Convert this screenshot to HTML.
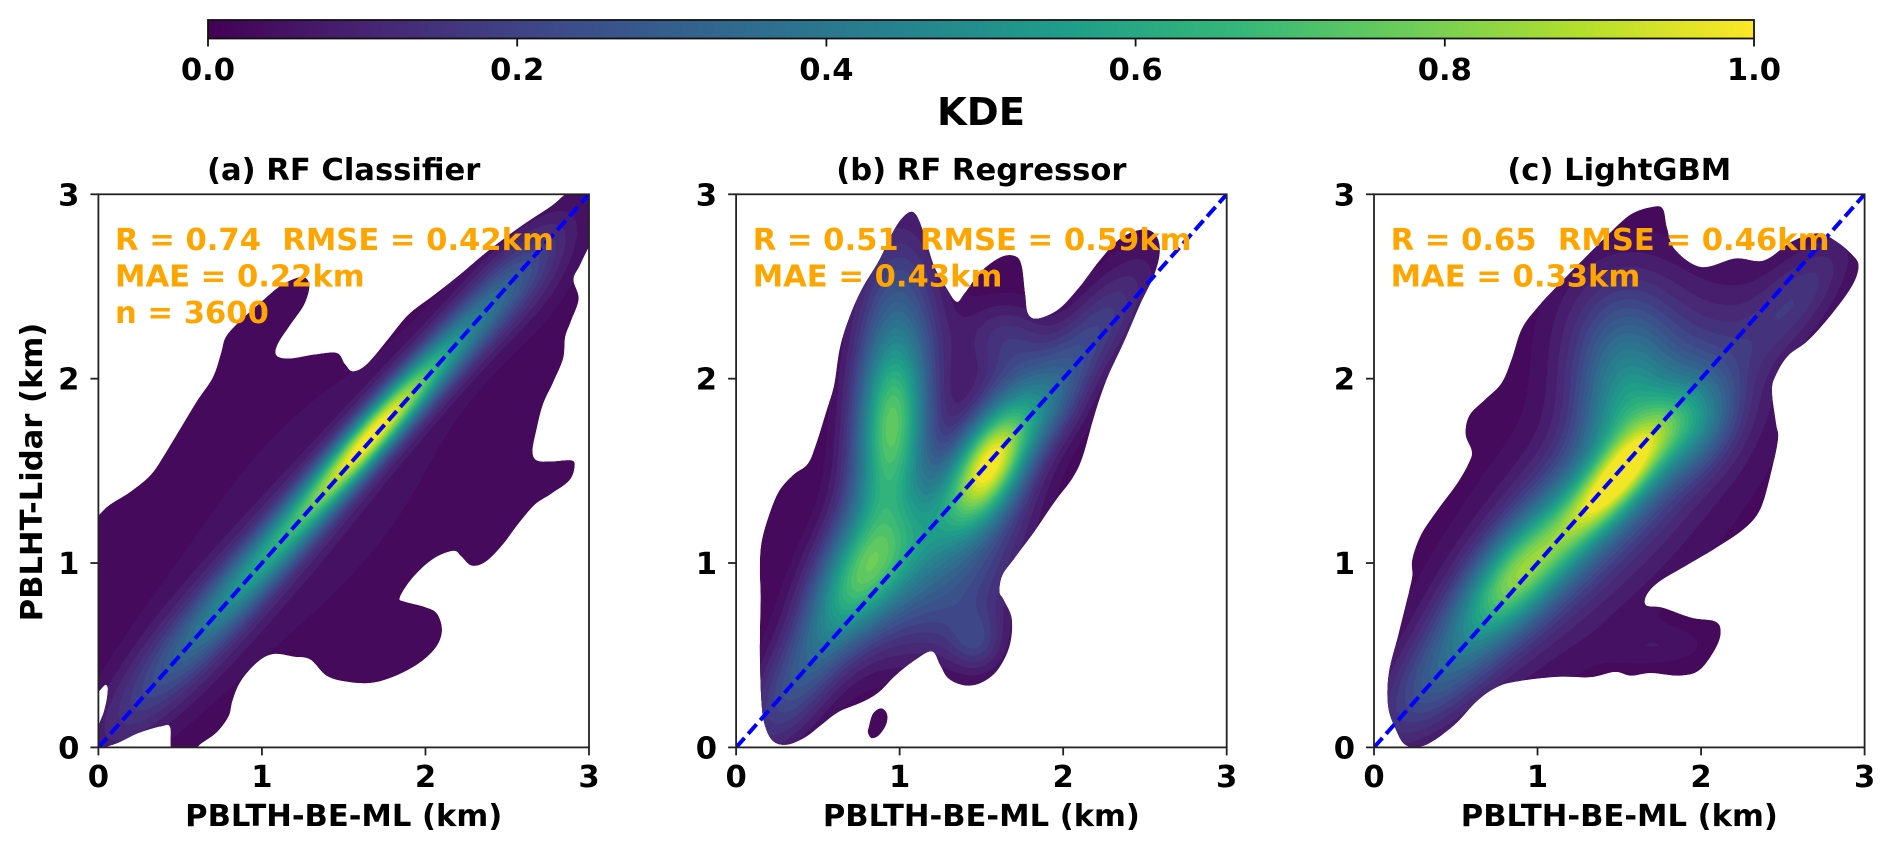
<!DOCTYPE html>
<html>
<head>
<meta charset="utf-8">
<title>KDE comparison of PBLH retrievals</title>
<style>
html,body{margin:0;padding:0;background:#fff;width:1892px;height:851px;overflow:hidden}
svg{display:block}
text{font-family:"DejaVu Sans","Liberation Sans",sans-serif;font-weight:bold;white-space:pre}
</style>
</head>
<body>
<svg id="fig" xmlns="http://www.w3.org/2000/svg" width="1892" height="851" viewBox="0 0 1892 851">
  <defs id="defs"></defs>
  <g id="colorbar"></g>
  <g id="panels"></g>
</svg>
<script>
// ---- chart data ----
const panelTitles = ["(a) RF Classifier", "(b) RF Regressor", "(c) LightGBM"];
const panelStats = [
  ["R = 0.74  RMSE = 0.42km", "MAE = 0.22km", "n = 3600"],
  ["R = 0.51  RMSE = 0.59km", "MAE = 0.43km"],
  ["R = 0.65  RMSE = 0.46km", "MAE = 0.33km"]
];
const xTicks = [0, 1, 2, 3];
const yTicks = [0, 1, 2, 3];
const cbarTicks = ["0.0", "0.2", "0.4", "0.6", "0.8", "1.0"];
const oneToOne = [0, 3];
const xTitle = "PBLTH-BE-ML (km)";
const yTitle = "PBLHT-Lidar (km)";
const cbarTitle = "KDE";

// lowest-contour outlines, [PBLTH km, PBLHT km]
const outlineA = [[-.05,1.2],[0,1.257],[.07,1.316],[.2,1.389],[.32,1.478],[.4,1.581],[.5,1.728],[.6,1.875],[.7,2.008],[.75,2.14],[.78,2.228],[.87,2.317],[1,2.42],[1.12,2.508],[1.245,2.552],[1.29,2.508],[1.26,2.405],[1.17,2.287],[1.095,2.184],[1.09,2.125],[1.17,2.11],[1.32,2.131],[1.457,2.14],[1.507,2.081],[1.557,2.04],[1.645,2.081],[1.77,2.214],[1.894,2.346],[2.044,2.449],[2.194,2.552],[2.393,2.7],[2.593,2.832],[2.768,2.935],[2.855,3],[2.95,3.06],[3.1,3.1],[3.1,2.85],[3,2.714],[2.942,2.611],[2.905,2.538],[2.937,2.434],[2.892,2.317],[2.855,2.228],[2.842,2.11],[2.78,1.978],[2.718,1.86],[2.68,1.728],[2.655,1.61],[2.68,1.557],[2.768,1.551],[2.892,1.557],[2.912,1.522],[2.88,1.448],[2.768,1.375],[2.668,1.316],[2.568,1.213],[2.468,1.095],[2.368,1.007],[2.281,.986],[2.219,1.036],[2.169,1.066],[2.044,1.021],[1.919,.918],[1.844,.815],[1.869,.792],[1.994,.762],[2.069,.727],[2.101,.639],[2.069,.55],[1.969,.462],[1.819,.389],[1.67,.35],[1.52,.356],[1.395,.389],[1.295,.477],[1.195,.492],[1.07,.506],[.971,.462],[.871,.359],[.821,.256],[.796,.168],[.721,.079],[.621,.015],[.571,-.03],[.452,-.03],[.439,.109],[.384,.115],[.247,.079],[.122,.026],[.047,.003],[-.02,-.02],[0,.109],[.035,.197],[.055,.286],[.047,.339],[-.05,.36]];
const outlineB = [[.145,.963],[.155,1.11],[.2,1.257],[.262,1.389],[.349,1.478],[.437,1.537],[.487,1.64],[.549,1.816],[.599,1.963],[.636,2.17],[.699,2.346],[.774,2.493],[.874,2.64],[.973,2.817],[1.048,2.897],[1.098,2.891],[1.148,2.788],[1.21,2.611],[1.285,2.493],[1.348,2.417],[1.398,2.464],[1.498,2.582],[1.622,2.661],[1.71,2.664],[1.747,2.611],[1.767,2.464],[1.785,2.352],[1.847,2.326],[1.972,2.376],[2.096,2.493],[2.221,2.64],[2.346,2.758],[2.471,2.808],[2.558,2.788],[2.591,2.699],[2.558,2.567],[2.471,2.405],[2.371,2.199],[2.271,2.008],[2.196,1.816],[2.121,1.581],[2.059,1.463],[1.947,1.331],[1.822,1.169],[1.697,1.021],[1.627,.933],[1.61,.845],[1.635,.801],[1.685,.698],[1.672,.55],[1.597,.418],[1.497,.35],[1.398,.336],[1.298,.374],[1.248,.447],[1.198,.521],[1.098,.477],[.973,.389],[.874,.3],[.774,.247],[.624,.191],[.524,.124],[.424,.056],[.312,.015],[.225,.035],[.175,.124],[.155,.256],[.145,.55],[.15,.815]];
const islandB = [[.811,.109],[.836,.182],[.886,.212],[.923,.182],[.918,.124],[.873,.065],[.829,.05],[.806,.08]];
const outlineC = [[.234,1.021],[.288,1.154],[.387,1.286],[.51,1.434],[.584,1.551],[.597,1.61],[.56,1.699],[.584,1.802],[.683,1.89],[.781,1.978],[.843,2.11],[.905,2.273],[1.003,2.39],[1.127,2.508],[1.274,2.641],[1.422,2.773],[1.57,2.891],[1.706,2.932],[1.767,2.92],[1.792,2.817],[1.841,2.699],[2.002,2.605],[2.211,2.652],[2.384,2.641],[2.556,2.744],[2.717,2.788],[2.827,2.744],[2.926,2.67],[2.963,2.611],[2.926,2.508],[2.803,2.355],[2.655,2.208],[2.532,2.125],[2.458,2.022],[2.433,1.934],[2.458,1.757],[2.47,1.669],[2.421,1.463],[2.359,1.286],[2.26,1.183],[2.088,1.08],[1.891,.977],[1.743,.898],[1.669,.83],[1.664,.771],[1.767,.757],[1.94,.704],[2.088,.683],[2.12,.624],[2.088,.536],[1.989,.418],[1.866,.389],[1.693,.403],[1.57,.389],[1.472,.409],[1.324,.38],[1.127,.383],[.88,.359],[.757,.33],[.634,.256],[.51,.138],[.387,.05],[.288,.006],[.19,.015],[.128,.109],[.086,.227],[.091,.403],[.153,.624],[.214,.845],[.234,.933]];

// estimated density blobs: centre (km), spread along/across (km), tilt (deg), height
const blobCxA = [1.68, 1.1, .5, 2.2, 2.6, 1.3];
const blobCyA = [1.7, 1.1, .5, 2.2, 2.55, 1.3];
const blobSuA = [.4, .5, .5, .45, .3, 1];
const blobSvA = [.078, .095, .14, .1, .15, .4];
const blobAngA = [45, 45, 45, 45, 45, 45];
const blobAmpA = [.78, .45, .18, .32, .1, .06];

const blobCxB = [1.56, .95, .71, 1.05, 1, .4, 2.15, 1.47, 1.62, 1.3, 1.85, .88, 1.45, 1.72];
const blobCyB = [1.56, 1.78, .93, 1.05, 2.25, .4, 2.2, .57, 2.25, .8, 1.8, 1.35, 1.35, 2.05];
const blobSuB = [.24, .3, .28, .35, .4, .35, .38, .12, .18, .35, .22, .32, .3, .2];
const blobSvB = [.13, .15, .16, .16, .18, .14, .13, .12, .13, .2, .13, .16, .2, .2];
const blobAngB = [60, 88, 60, 45, 90, 55, 50, 0, 0, 30, 45, 80, 50, 0];
const blobAmpB = [.72, .5, .42, .3, .27, .25, .2, .15, .08, .18, .2, .3, .28, .12];

const blobCxC = [1.47, .86, 1.3, 1.53, 1.55, 1.96, 2.6, .4, 1.75, 1.5];
const blobCyC = [1.44, .93, 1.3, 1.88, 2.25, 1.75, 2.45, .4, .55, 1.4];
const blobSuC = [.3, .3, .7, .3, .3, .2, .3, .35, .2, .9];
const blobSvC = [.1, .14, .2, .2, .3, .15, .12, .15, .07, .4];
const blobAngC = [45, 45, 45, 90, 0, 45, 45, 45, 0, 45];
const blobAmpC = [.56, .47, .35, .3, .15, .25, .12, .2, .05, .12];

// ---- colour map ----
const viridis = [[68,1,84],[71,39,117],[62,73,137],[49,104,142],[38,130,142],[31,158,137],[53,183,121],[109,205,89],[180,222,44],[253,231,37]];
function cmap(t){
  t = Math.max(0, Math.min(1, t)) * (viridis.length - 1);
  const i = Math.min(viridis.length - 2, Math.floor(t)), f = t - i;
  const c = viridis[i].map((v, k) => Math.round(v + (viridis[i + 1][k] - v) * f));
  return "rgb(" + c.join(",") + ")";
}

// ---- layout ----
const NS = "http://www.w3.org/2000/svg";
const fig = document.getElementById("fig");
const defs = document.getElementById("defs");
const axTop = 194.3, axBottom = 747.4;
const axLeft = [98.4, 736.1, 1374];
const axWidth = 490.6;
const cbarLeft = 208, cbarRight = 1754, cbarTop = 20, cbarBottom = 38.5;
const axisMax = 3;
const FS = 30.6;

function el(tag, attrs, parent){
  const e = document.createElementNS(NS, tag);
  for (const k in attrs) e.setAttribute(k, attrs[k]);
  parent.appendChild(e);
  return e;
}
function label(str, x, y, size, anchor, parent, fill){
  const t = el("text", {x: x, y: y, "font-size": size, "text-anchor": anchor, style: "fill:" + (fill || "#000")}, parent);
  t.textContent = str;
  return t;
}
function smoothPath(pts, sx, sy){
  const n = pts.length;
  const P = i => pts[(i + n) % n];
  let d = "M" + sx(pts[0][0]).toFixed(1) + " " + sy(pts[0][1]).toFixed(1);
  for (let i = 0; i < n; i++){
    const a = P(i - 1), b = P(i), c = P(i + 1), e = P(i + 2);
    d += "C" + sx(b[0] + (c[0] - a[0]) / 6).toFixed(1) + " " + sy(b[1] + (c[1] - a[1]) / 6).toFixed(1) +
         " " + sx(c[0] - (e[0] - b[0]) / 6).toFixed(1) + " " + sy(c[1] - (e[1] - b[1]) / 6).toFixed(1) +
         " " + sx(c[0]).toFixed(1) + " " + sy(c[1]).toFixed(1);
  }
  return d + "Z";
}

// ---- colour bar ----
const cbar = document.getElementById("colorbar");
const grad = el("linearGradient", {id: "viridis-grad", x1: 0, x2: 1, y1: 0, y2: 0}, defs);
viridis.forEach((c, i) => {
  el("stop", {offset: i / (viridis.length - 1), "stop-color": "rgb(" + c.join(",") + ")"}, grad);
});
const cbarRect = el("rect", {x: cbarLeft, y: cbarTop, width: cbarRight - cbarLeft, height: cbarBottom - cbarTop, fill: "url(#viridis-grad)", stroke: "#111", "stroke-width": 1.8}, cbar);


cbarTicks.forEach(v => {
  const x = cbarLeft + (cbarRight - cbarLeft) * parseFloat(v);
  const tk = el("line", {x1: x, x2: x, y1: cbarBottom, y2: cbarBottom + 8, stroke: "#111", "stroke-width": 1.8}, cbar);
  
  
  const lb = label(v, x, 80, FS, "middle", cbar);
  
  
});
const cbarLabel = label(cbarTitle, 981, 125, 38.5, "middle", cbar);



// ---- density + contour bands ----
function densityFn(cx, cy, su, sv, ang, amp){
  const comps = cx.map((_, i) => {
    const t = ang[i] * Math.PI / 180;
    return {x: cx[i], y: cy[i], c: Math.cos(t), s: Math.sin(t), u: su[i], v: sv[i], a: amp[i]};
  });
  return (x, y) => {
    let z = 0;
    for (const g of comps){
      const dx = x - g.x, dy = y - g.y;
      const p = (dx * g.c + dy * g.s) / g.u, q = (-dx * g.s + dy * g.c) / g.v;
      const e = p * p + q * q;
      if (e < 30) z += g.a * Math.exp(-0.5 * e);
    }
    return z;
  };
}
const GRID = 130, LEVELS = 30;
function bandPath(Z, level, sx, sy){
  const h = axisMax / GRID;
  const out = [];
  for (let j = 0; j < GRID; j++){
    for (let i = 0; i < GRID; i++){
      const v = [Z[j][i], Z[j][i + 1], Z[j + 1][i + 1], Z[j + 1][i]];
      if (v[0] < level && v[1] < level && v[2] < level && v[3] < level) continue;
      const cx = [i, i + 1, i + 1, i], cy = [j, j, j + 1, j + 1];
      let d = "";
      for (let k = 0; k < 4; k++){
        const m = (k + 1) % 4;
        if (v[k] >= level){
          d += (d ? "L" : "M") + sx(cx[k] * h).toFixed(1) + " " + sy(cy[k] * h).toFixed(1);
        }
        if ((v[k] >= level) !== (v[m] >= level)){
          const f = (level - v[k]) / (v[m] - v[k]);
          d += (d ? "L" : "M") + sx((cx[k] + (cx[m] - cx[k]) * f) * h).toFixed(1) + " " + sy((cy[k] + (cy[m] - cy[k]) * f) * h).toFixed(1);
        }
      }
      out.push(d + "Z");
    }
  }
  return out.join("");
}

const panelOutlines = [[outlineA], [outlineB, islandB], [outlineC]];
const panelBlobs = [
  [blobCxA, blobCyA, blobSuA, blobSvA, blobAngA, blobAmpA],
  [blobCxB, blobCyB, blobSuB, blobSvB, blobAngB, blobAmpB],
  [blobCxC, blobCyC, blobSuC, blobSvC, blobAngC, blobAmpC]
];
const panelsG = document.getElementById("panels");

panelTitles.forEach((title, p) => {
  const L = axLeft[p], R = L + axWidth;
  const sx = v => L + v / axisMax * axWidth;
  const sy = v => axBottom - v / axisMax * (axBottom - axTop);
  const g = el("g", {}, panelsG);
  
  

  // clip paths
  const clipAxes = el("clipPath", {id: "clip-axes-" + p}, defs);
  el("rect", {x: L, y: axTop, width: axWidth, height: axBottom - axTop}, clipAxes);
  const clipOut = el("clipPath", {id: "clip-outline-" + p}, defs);
  el("path", {d: panelOutlines[p].map(o => smoothPath(o, sx, sy)).join("")}, clipOut);

  // filled contours
  const outer = el("g", {"clip-path": "url(#clip-axes-" + p + ")"}, g);
  const inner = el("g", {"clip-path": "url(#clip-outline-" + p + ")"}, outer);
  
  
  const floor = el("path", {d: panelOutlines[p].map(o => smoothPath(o, sx, sy)).join(""), fill: cmap(.025)}, inner);
  
  
  const fn = densityFn.apply(null, panelBlobs[p]);
  const Z = [];
  for (let j = 0; j <= GRID; j++){
    const row = [];
    for (let i = 0; i <= GRID; i++) row.push(fn(i * axisMax / GRID, j * axisMax / GRID));
    Z.push(row);
  }
  for (let l = 1; l < LEVELS; l++){
    const level = l / LEVELS;
    const d = bandPath(Z, level, sx, sy);
    if (!d) continue;
    const band = el("path", {d: d, fill: cmap(level + 0.5 / LEVELS)}, inner);
    
    
  }

  // 1:1 line
  const ref = el("line", {x1: sx(oneToOne[0]), y1: sy(oneToOne[0]), x2: sx(oneToOne[1]), y2: sy(oneToOne[1]), stroke: "#0000ff", "stroke-width": 4, "stroke-dasharray": "12.7 5.5"}, outer);
  
  

  // stats text
  panelStats[p].forEach((s, i) => {
    const t = label(s, L + 16.6, 250 + i * 36.6, FS, "start", g, "#ffa500");
    
    
  });

  // spines
  const frame = el("rect", {x: L, y: axTop, width: axWidth, height: axBottom - axTop, fill: "none", stroke: "#222", "stroke-width": 1.8}, g);
  
  

  // ticks
  xTicks.forEach(v => {
    const tk = el("line", {x1: sx(v), x2: sx(v), y1: axBottom, y2: axBottom + 8, stroke: "#222", "stroke-width": 1.8}, g);
    
    
    const lb = label(String(v), sx(v), 787, FS, "middle", g);
    
    
  });
  yTicks.forEach(v => {
    const tk = el("line", {x1: L - 8, x2: L, y1: sy(v), y2: sy(v), stroke: "#222", "stroke-width": 1.8}, g);
    
    
    const lb = label(String(v), L - 19, sy(v) + 11, FS, "end", g);
    
    
  });

  // titles
  const tt = label(title, L + axWidth / 2, 180, FS, "middle", g);
  
  
  const xl = label(xTitle, L + axWidth / 2, 826, FS, "middle", g);
  
  
  if (p === 0){
    const yl = label(yTitle, 0, 0, FS, "middle", g);
    yl.setAttribute('transform', 'translate(42,472) rotate(-90)');
    
    
  }
});
</script>
</body>
</html>
